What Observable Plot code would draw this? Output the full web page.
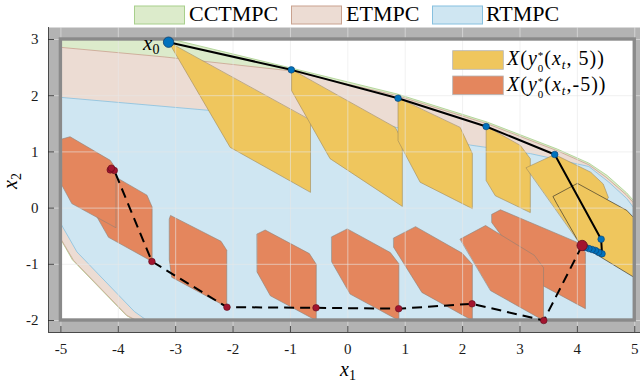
<!DOCTYPE html>
<html><head><meta charset="utf-8">
<script src="https://cdn.jsdelivr.net/npm/d3@7"></script>
<script src="https://cdn.jsdelivr.net/npm/@observablehq/plot@0.6"></script>
<style>
html,body{margin:0;padding:0;background:#fff;}
#wrap{position:relative;width:640px;height:385px;overflow:hidden;font-family:"Liberation Serif",serif;}
#wrap svg{position:absolute;left:0;}
</style></head>
<body><div id="wrap"></div>
<script>
// ---------- data ----------
const xTicks = [-5,-4,-3,-2,-1,0,1,2,3,4,5];
const yTicks = [-2,-1,0,1,2,3];
const xLimits = [-5.216, 5.1];
const yLimits = [-2.2135, 3.2135];
const boxX = [-5, 5];
const boxY = [-2, 3];

const regionNames = ["CCTMPC","ETMPC","RTMPC"];
const regionFill = ["#dcebcb","#ecdcd3","#cfe6f2"];
const regionEdge = ["#a8cf8c","#c9a28f","#86c0df"];
const cctmpc = [[-5,3],[-3.05,3],[-0.98,2.49],[0.86,2.03],[2.43,1.53],[3.65,1.05],[4.2,0.80],[4.52,0.58],[4.86,0.27],[5,0.11],[5,-2],[-3.7,-2],[-3.86,-1.91],[-4.8,-0.92],[-5,-0.56]];
const etmpc = [[-5,2.86],[-3.2,2.69],[-0.98,2.44],[0.86,2.0],[2.43,1.50],[3.65,1.02],[4.2,0.77],[4.5,0.55],[4.85,0.24],[5,0.07],[5,-2],[-3.68,-2],[-3.85,-1.91],[-4.78,-0.93],[-5,-0.55]];
const rtmpc = [[-5,1.97],[-2.43,1.74],[-1.0,1.6],[0.83,1.44],[2.14,1.12],[3.18,0.97],[4.2,0.74],[4.55,0.46],[4.86,0.17],[5,-0.02],[5,-2],[-3.5,-2],[-3.72,-1.84],[-4.72,-0.78],[-5,-0.28]];

// X(y0*(xt,-5)) sets, in drawing order
const orangeSets = [
  [[2.51,-0.11],[2.66,-0.03],[4.00,-0.61],[4.14,-0.79],[4.14,-1.79],[3.27,-1.31],[2.51,-0.26]],
  [[1.96,-0.55],[2.40,-0.31],[3.25,-0.84],[3.41,-1.06],[3.41,-2.0],[2.49,-1.47]],
  [[0.80,-0.53],[1.18,-0.33],[1.99,-0.80],[2.17,-1.00],[2.17,-2.0],[1.29,-1.50],[0.80,-0.70]],
  [[-0.28,-0.51],[-0.01,-0.37],[0.74,-0.79],[0.89,-0.99],[0.89,-2.0],[0.04,-1.53],[-0.28,-0.96]],
  [[-1.58,-0.46],[-1.44,-0.39],[-0.67,-0.81],[-0.55,-1.00],[-0.55,-2.0],[-1.35,-1.56],[-1.58,-1.14]],
  [[-3.11,-0.19],[-3.09,-0.13],[-2.21,-0.59],[-2.11,-0.75],[-2.11,-1.76],[-3.07,-1.23],[-3.11,-0.93]],
  [[-4.37,0.56],[-4.26,0.68],[-3.50,0.23],[-3.41,0.02],[-3.41,-0.95],[-4.17,-0.52],[-4.37,-0.16]],
  [[-4.98,1.23],[-4.84,1.27],[-4.14,0.85],[-4.04,0.70],[-4.04,-0.35],[-4.81,0.08],[-4.98,0.40]]
];
// X(y0*(xt,5)) sets, in drawing order
const yellowSets = [
  [[-3.12,2.95],[-2.05,1.08],[-0.65,0.28],[-0.65,1.56]],
  [[-0.98,2.46],[-0.98,2.09],[-0.31,0.88],[0.95,0.03],[0.95,1.20],[0.83,1.43]],
  [[0.875,1.955],[0.875,1.20],[1.26,0.46],[2.17,-0.01],[2.17,0.97],[1.96,1.43]],
  [[2.41,1.45],[2.41,0.49],[2.57,0.22],[3.18,-0.08],[3.18,0.88],[3.01,1.11]],
  [[3.11,0.72],[3.605,0.954],[4.23,0.64],[4.45,0.43],[4.54,0.19],[4.07,-0.66]],
  [[3.58,0.21],[4.00,0.44],[4.86,-0.04],[5.0,-0.19],[5.0,-1.24],[4.05,-0.65],[3.64,0.08]]
];
const yellowEdge = ["#a08a5a","#a08a5a","#a08a5a","#a08a5a","#a08a5a","#222"];

// closed-loop trajectory towards reference 5 (solid) and -5 (dashed)
const traj5 = [[-3.124,2.952],[-0.985,2.46],[0.875,1.955],[2.41,1.452],[3.605,0.954],[4.414,-0.553],[4.43,-0.813],[4.37,-0.785],[4.315,-0.754],[4.257,-0.737],[4.2,-0.72],[4.14,-0.70]];
const trajM5 = [[4.083,-0.665],[3.414,-2.0],[2.165,-1.703],[0.886,-1.79],[-0.554,-1.774],[-2.106,-1.763],[-3.414,-0.95],[-4.07,0.67],[-4.14,0.68],[-4.12,0.71]];

// ---------- helpers ----------
const rows = (sets, prefix) => sets.flatMap((p, i) => p.map(([x, y]) => ({id: prefix + i, k: i, x, y})));
const pts = a => a.map(([x, y]) => ({x, y}));

const regionRows = [
  ...cctmpc.map(([x,y]) => ({id:"r0", k:0, x, y})),
  ...etmpc.map(([x,y]) => ({id:"r1", k:1, x, y})),
  ...rtmpc.map(([x,y]) => ({id:"r2", k:2, x, y}))
];

const serif = "'Liberation Serif', 'DejaVu Serif', serif";

const chart = Plot.plot({
  width: 640, height: 358,
  marginLeft: 48, marginRight: 0, marginTop: 0, marginBottom: 53,
  x: {domain: xLimits},
  y: {domain: yLimits},
  style: {fontFamily: serif, fontSize: "15px", color: "#262626", background: "transparent", overflow: "visible"},
  marks: [
    Plot.frame({fill: "#b3b3b3", stroke: null}),
    Plot.rect([0], {x1: () => boxX[0], x2: () => boxX[1], y1: () => boxY[0], y2: () => boxY[1], fill: "white"}),
    Plot.line(regionRows, {x: "x", y: "y", z: "id", fill: d => regionFill[d.k], stroke: d => regionEdge[d.k], strokeWidth: 0.8, curve: "linear-closed"}),
    Plot.line(rows(orangeSets, "o"), {x: "x", y: "y", z: "id", fill: "#e4865d", stroke: "#8f7f76", strokeWidth: 0.6, curve: "linear-closed"}),
    Plot.line(rows(yellowSets, "y"), {x: "x", y: "y", z: "id", fill: "#efc65d", stroke: d => yellowEdge[d.k], strokeWidth: 0.6, curve: "linear-closed"}),
    Plot.gridX(xTicks, {stroke: "#e8e8e8", strokeOpacity: 0.6, strokeWidth: 1}),
    Plot.gridY(yTicks, {stroke: "#e8e8e8", strokeOpacity: 0.6, strokeWidth: 1}),
    Plot.rect([0], {x1: () => boxX[0], x2: () => boxX[1], y1: () => boxY[0], y2: () => boxY[1], fill: "none", stroke: "#8a8a8a", strokeWidth: 3.4}),
    Plot.ruleX([xLimits[0]], {stroke: "#262626", strokeWidth: 0.8}),
    Plot.ruleY([yLimits[0]], {stroke: "#262626", strokeWidth: 0.8}),
    Plot.tickX(xTicks, {x: d => d, insetTop: 299, stroke: "#262626", strokeWidth: 0.8}),
    Plot.tickY(yTicks, {y: d => d, insetRight: 586, stroke: "#262626", strokeWidth: 0.8}),
    Plot.axisX(xTicks, {tickSize: 0, tickPadding: 10.5, tickFormat: d => String(d), label: null, fontSize: 15, fill: "#1a1a1a"}),
    Plot.axisY(yTicks, {tickSize: 0, tickPadding: 10, tickFormat: d => String(d), label: null, fontSize: 15, fill: "#1a1a1a"}),
    Plot.line(pts(traj5), {x: "x", y: "y", stroke: "black", strokeWidth: 2}),
    Plot.dot(pts(traj5).slice(1), {x: "x", y: "y", r: 3.3, fill: "#0072BD", stroke: "#0b3f6e", strokeWidth: 0.6}),
    Plot.dot(pts(traj5).slice(0, 1), {x: "x", y: "y", r: 5.2, fill: "#0072BD", stroke: "#0b3f6e", strokeWidth: 0.8}),
    Plot.line(pts(trajM5), {x: "x", y: "y", stroke: "black", strokeWidth: 2, strokeDasharray: "10,6", strokeLinecap: "butt"}),
    Plot.dot(pts(trajM5).slice(1), {x: "x", y: "y", r: 3.3, fill: "#A2142F", stroke: "#5e0b1b", strokeWidth: 0.6}),
    Plot.dot(pts(trajM5).slice(0, 1), {x: "x", y: "y", r: 5.2, fill: "#A2142F", stroke: "#5e0b1b", strokeWidth: 0.8})
  ]
});
chart.style.top = "27px";
document.getElementById("wrap").appendChild(chart);

const sx = chart.scale("x").apply, sy = chart.scale("y").apply;
const svg = d3.select(chart);

// x0 label
const t0 = svg.append("text").attr("text-anchor", "start").attr("x", sx(traj5[0][0]) - 25).attr("y", sy(traj5[0][1]) + 8.5)
  .attr("font-family", serif).attr("font-size", 21).attr("fill", "#000");
t0.append("tspan").attr("font-style", "italic").text("x");
t0.append("tspan").attr("dy", 3.5).attr("font-size", 14).text("0");

// axis labels
const xl = svg.append("text").attr("text-anchor", "start").attr("x", 340).attr("y", 349).attr("font-family", serif).attr("font-size", 20).attr("fill", "#000");
xl.append("tspan").attr("font-style", "italic").text("x");
xl.append("tspan").attr("dy", 4).attr("font-size", 14).text("1");
const yl = svg.append("text").attr("text-anchor", "start").attr("transform", "translate(17,162) rotate(-90)").attr("font-family", serif).attr("font-size", 20).attr("fill", "#000");
yl.append("tspan").attr("font-style", "italic").text("x");
yl.append("tspan").attr("dy", 4).attr("font-size", 14).text("2");

// inner legend
const legendRows = [{fill: "#efc65d", ref: " 5))", y: 23.7}, {fill: "#e4865d", ref: "-5))", y: 49}];
legendRows.forEach(r => {
  svg.append("rect").attr("x", 452.7).attr("y", r.y).attr("width", 50.6).attr("height", 18.6)
    .attr("fill", r.fill).attr("stroke", "#b5b5b5").attr("stroke-width", 0.8);
  const t = svg.append("text").attr("text-anchor", "start").attr("x", 507).attr("y", r.y + 14.6)
    .attr("font-family", serif).attr("font-size", 20).attr("letter-spacing", 1).attr("fill", "#000");
  t.append("tspan").attr("font-style", "italic").text("X");
  t.append("tspan").text("(");
  t.append("tspan").attr("font-style", "italic").text("y");
  t.append("tspan").attr("dy", -6).attr("font-size", 11).text("*");
  t.append("tspan").attr("dx", -6.5).attr("dy", 13).attr("font-size", 11).text("0");
  t.append("tspan").attr("dy", -7).text("(");
  t.append("tspan").attr("font-style", "italic").text("x");
  t.append("tspan").attr("dy", 4).attr("font-size", 13).attr("font-style", "italic").text("t");
  t.append("tspan").attr("dy", -4).text("," + r.ref);
});

// top legend
const topSvg = d3.select("#wrap").append("svg").attr("width", 640).attr("height", 27).style("top", "0px");
const topItems = [{label: regionNames[0], x: 134, tx: 189}, {label: regionNames[1], x: 291, tx: 346}, {label: regionNames[2], x: 432, tx: 486}];
topItems.forEach((it, i) => {
  topSvg.append("rect").attr("x", it.x + 0.5).attr("y", 6).attr("width", 50).attr("height", 18)
    .attr("fill", regionFill[i]).attr("stroke", regionEdge[i]).attr("stroke-width", 1);
  topSvg.append("text").attr("text-anchor", "start").attr("x", it.tx).attr("y", 20.5).attr("font-family", serif).attr("font-size", 22).attr("fill", "#000").text(it.label);
});
</script></body></html>
